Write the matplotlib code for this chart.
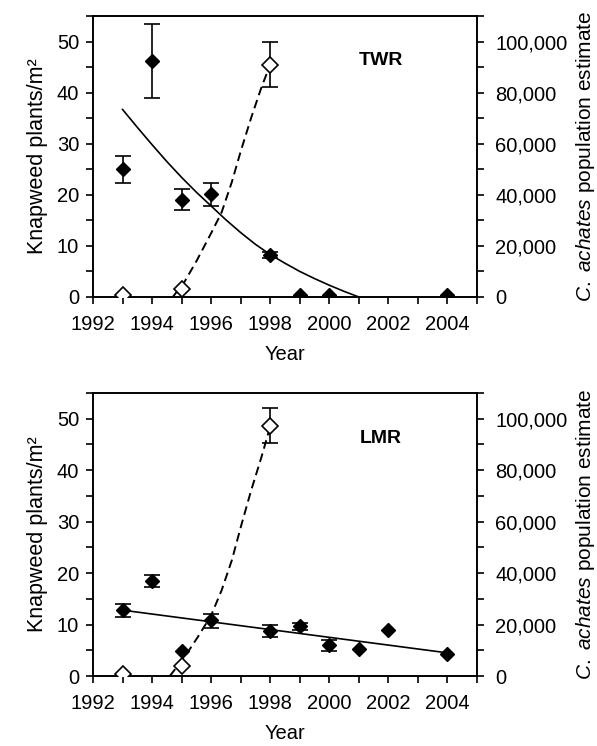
import numpy as np
import matplotlib
matplotlib.use("Agg")
import matplotlib.pyplot as plt
from matplotlib.ticker import MultipleLocator, StrMethodFormatter

plt.rcParams['font.family'] = ['Liberation Sans', 'DejaVu Sans']
plt.rcParams['mathtext.fontset'] = 'custom'
plt.rcParams['mathtext.rm'] = 'Liberation Sans'
plt.rcParams['mathtext.it'] = 'Liberation Sans:italic'

# TWR - knapweed density (solid diamonds)
twr_years = np.array([1993, 1994, 1995, 1996, 1998, 1999, 2000, 2004])
twr_knap = np.array([25.0, 46.2, 19.0, 20.1, 8.2, 0.4, 0.4, 0.4])
twr_lo = np.array([22.3, 39.0, 17.0, 17.8, 7.6, 0.4, 0.4, 0.4])
twr_hi = np.array([27.6, 53.4, 21.2, 22.3, 8.8, 0.4, 0.4, 0.4])
# TWR - C. achates population (open diamonds)
twr_pop_years = np.array([1993, 1995, 1998])
twr_pop = np.array([600, 3200, 91000])
twr_pop_lo = np.array([600, 3200, 82000])
twr_pop_hi = np.array([600, 3200, 100000])
# TWR trend lines
twr_fit_years = [1993, 1993.5, 1994, 1994.5, 1995, 1995.5, 1996, 1996.5, 1997,
                 1997.5, 1998, 1998.5, 1999, 1999.5, 2000, 2000.5, 2001]
twr_fit = [36.7, 33.2, 29.8, 26.5, 23.4, 20.5, 17.8, 15.1, 12.6,
           10.3, 8.3, 6.6, 5.0, 3.6, 2.3, 1.1, 0.0]
twr_popfit_years = [1994.7, 1995.1, 1995.5, 1996.0, 1996.35, 1996.7, 1997.0, 1997.35, 1997.7, 1998.0]
twr_popfit = [0, 6000, 14000, 25000, 33000, 45000, 57000, 70000, 82000, 91000]

# LMR
lmr_years = np.array([1993, 1994, 1995, 1996, 1998, 1999, 2000, 2001, 2002, 2004])
lmr_knap = np.array([12.9, 18.5, 4.9, 10.8, 8.8, 9.7, 6.0, 5.2, 8.9, 4.3])
lmr_lo = np.array([11.4, 17.3, 4.9, 9.4, 7.6, 9.0, 4.9, 5.2, 8.9, 4.3])
lmr_hi = np.array([14.0, 19.7, 4.9, 12.1, 9.9, 10.3, 7.0, 5.2, 8.9, 4.3])
lmr_pop_years = np.array([1993, 1995, 1998])
lmr_pop = np.array([800, 3800, 97200])
lmr_pop_lo = np.array([800, 3800, 90400])
lmr_pop_hi = np.array([800, 3800, 104000])
lmr_fit_years = [1993, 2004]
lmr_fit = [12.8, 4.5]
lmr_popfit_years = [1994.6, 1995.1, 1995.55, 1996.0, 1996.35, 1996.7, 1997.0, 1997.35, 1997.7, 1998.0]
lmr_popfit = [0, 7400, 15200, 23600, 33200, 45000, 57800, 72000, 85000, 97000]

year_ticks = [1992, 1994, 1996, 1998, 2000, 2002, 2004]


def panel(ax, years, knap, lo, hi, pyears, pop, plo, phi, fx, fy, px, py, name):
    axr = ax.twinx()
    ax.plot(fx, fy, color='k', lw=1.2, zorder=2)
    bar = hi > lo
    ax.errorbar(years[bar], knap[bar], yerr=[knap[bar] - lo[bar], hi[bar] - knap[bar]],
                fmt='none', ecolor='k', elinewidth=1.2, capsize=5.5, capthick=1.2, zorder=3)
    ax.plot(years, knap, 'D', color='k', ms=7.2, zorder=4)

    axr.plot(px, py, color='k', lw=1.4, dashes=(4.5, 2.6), zorder=2)
    pbar = phi > plo
    axr.errorbar(pyears[pbar], pop[pbar], yerr=[pop[pbar] - plo[pbar], phi[pbar] - pop[pbar]],
                 fmt='none', ecolor='k', elinewidth=1.2, capsize=5.5, capthick=1.2, zorder=3)
    axr.plot(pyears, pop, 'D', mfc='white', mec='k', mew=1.2, ms=8.2, zorder=4)

    ax.set_xlim(1992, 2005)
    ax.set_ylim(0, 55)
    axr.set_ylim(0, 110000)
    ax.set_xticks(year_ticks)
    ax.xaxis.set_minor_locator(MultipleLocator(1))
    ax.yaxis.set_major_locator(MultipleLocator(10))
    ax.yaxis.set_minor_locator(MultipleLocator(5))
    axr.yaxis.set_major_locator(MultipleLocator(20000))
    axr.yaxis.set_minor_locator(MultipleLocator(10000))
    axr.yaxis.set_major_formatter(StrMethodFormatter('{x:,.0f}'))

    for a in (ax, axr):
        for s in a.spines.values():
            s.set_linewidth(1.2)
        a.tick_params(which='both', direction='out', length=5, width=1.2, labelsize=14.5)
    ax.tick_params(axis='x', pad=8)
    ax.tick_params(axis='y', pad=5)
    axr.tick_params(axis='y', pad=8)

    ax.set_xlabel('Year', fontsize=14.5, labelpad=8)
    ax.set_ylabel('Knapweed plants/m²', fontsize=15.5, labelpad=6)
    axr.set_ylabel(r'$\mathit{C.\ achates}$ population estimate', fontsize=15, labelpad=5)
    ax.text(2001.75, 46.2, name, fontsize=14, fontweight='bold', ha='center', va='center')


fig = plt.figure(figsize=(5.97, 7.46), dpi=100)
ax1 = fig.add_axes([0.1558, 0.6019, 0.6432, 0.3767])
ax2 = fig.add_axes([0.1558, 0.0938, 0.6432, 0.3794])

panel(ax1, twr_years, twr_knap, twr_lo, twr_hi, twr_pop_years, twr_pop, twr_pop_lo, twr_pop_hi,
      twr_fit_years, twr_fit, twr_popfit_years, twr_popfit, 'TWR')
panel(ax2, lmr_years, lmr_knap, lmr_lo, lmr_hi, lmr_pop_years, lmr_pop, lmr_pop_lo, lmr_pop_hi,
      lmr_fit_years, lmr_fit, lmr_popfit_years, lmr_popfit, 'LMR')

fig.savefig('out.png', dpi=100)
